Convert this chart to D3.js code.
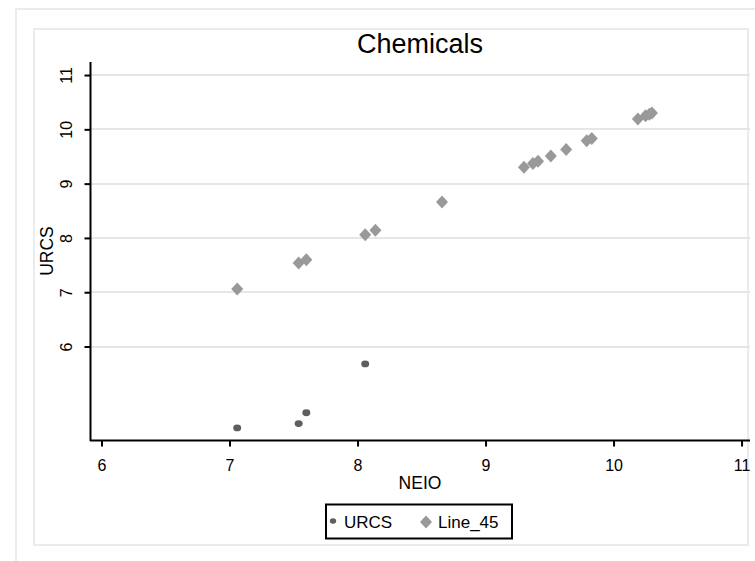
<!DOCTYPE html>
<html lang="en">
	<head>
		<meta charset="utf-8">
		<title>Chemicals</title>
		<style>
			body { margin: 0; background: white; }
			svg { display: block; font-family: "Liberation Sans", Arial, sans-serif; }
			.grid line { stroke: #e6e6e6; stroke-width: 1.5; shape-rendering: crispEdges; }
		</style>
	</head>
	<body>
		<div id="container"></div>
		<script src="https://cdnjs.cloudflare.com/ajax/libs/d3/7.8.5/d3.min.js"></script>
		<script>
			var neio = [7.06, 7.54, 7.60, 8.06, 8.14, 8.66, 9.30, 9.37, 9.41, 9.51, 9.63, 9.79, 9.83, 10.19, 10.25, 10.28, 10.30];
			var urcs = [4.50, 4.58, 4.78, 5.68, null, null, null, null, null, null, null, null, null, null, null, null, null];
			var line45 = [7.06, 7.54, 7.60, 8.06, 8.14, 8.66, 9.30, 9.37, 9.41, 9.51, 9.63, 9.79, 9.83, 10.19, 10.25, 10.28, 10.30];
			var xTicks = [6, 7, 8, 9, 10, 11];
			var yTicks = [6, 7, 8, 9, 10, 11];
			var seriesNames = ["URCS", "Line_45"];

			var W = 755, H = 561;
			var svg = d3.select("#container").append("svg")
						.attr("width", W)
						.attr("height", H);

			// graph region and plot region outlines (light grey)
			svg.append("rect")
				.attr("x", 16).attr("y", 9).attr("width", 800).attr("height", 600)
				.attr("fill", "none").attr("stroke", "#ebebeb").attr("stroke-width", 2);
			svg.append("rect")
				.attr("x", 34).attr("y", 29).attr("width", 714).attr("height", 516)
				.attr("fill", "none").attr("stroke", "#ebebeb").attr("stroke-width", 2);

			var xScale = d3.scaleLinear().domain([5.91, 11.066]).range([90, 750]);
			var yScale = d3.scaleLinear().domain([4.26, 11.24]).range([441, 62]);

			// horizontal grid lines
			svg.append("g").attr("class", "grid")
				.selectAll("line").data(yTicks).enter().append("line")
				.attr("x1", 91).attr("x2", 750)
				.attr("y1", function(d) { return Math.round(yScale(d)); })
				.attr("y2", function(d) { return Math.round(yScale(d)); });

			// y axis, labels rotated like Stata's
			var yAxis = d3.axisLeft(yScale).tickValues(yTicks).tickSize(6).tickPadding(0).tickFormat(d3.format("d"));
			var gy = svg.append("g").attr("transform", "translate(90.5,0)").call(yAxis);
			gy.select(".domain").attr("stroke-width", 2).attr("d", "M0," + yScale.range()[1] + "V" + yScale.range()[0]);
			gy.selectAll(".tick line").attr("stroke-width", 2);
			gy.selectAll(".tick text")
				.attr("x", null).attr("dy", null)
				.attr("transform", "translate(-19,0) rotate(-90)")
				.attr("text-anchor", "middle")
				.style("font-family", "'Liberation Sans', Arial, sans-serif")
				.style("font-size", "16px")
				.style("fill", "#000");

			// x axis
			var xAxis = d3.axisBottom(xScale).tickValues(xTicks).tickSize(6).tickPadding(0).tickFormat(d3.format("d"));
			var gx = svg.append("g").attr("transform", "translate(0,440.5)").call(xAxis);
			gx.select(".domain").attr("stroke-width", 2).attr("d", "M" + xScale.range()[0] + ",0H" + xScale.range()[1]);
			gx.selectAll(".tick line").attr("stroke-width", 2);
			gx.selectAll(".tick text")
				.attr("y", 30).attr("dy", null)
				.style("font-family", "'Liberation Sans', Arial, sans-serif")
				.style("font-size", "16px")
				.style("fill", "#000");

			// titles
			svg.append("text").attr("x", 420).attr("y", 53).attr("text-anchor", "middle")
				.style("font-size", "27px").text("Chemicals");
			svg.append("text").attr("x", 420).attr("y", 489).attr("text-anchor", "middle")
				.style("font-size", "17.5px").text("NEIO");
			svg.append("text").attr("transform", "translate(53,251) rotate(-90)").attr("text-anchor", "middle")
				.style("font-size", "17.5px").text("URCS");

			var diamond = "M0,-6.5L6,0L0,6.5L-6,0Z";
			var rows = neio.map(function(x, i) { return { x: x, urcs: urcs[i], line45: line45[i] }; });

			// Line_45 diamonds
			svg.append("g").selectAll("path")
				.data(rows.filter(function(d) { return d.line45 != null; }))
				.enter().append("path")
				.attr("d", diamond)
				.attr("fill", "#999999")
				.attr("transform", function(d) { return "translate(" + xScale(d.x) + "," + yScale(d.line45) + ")"; });

			// URCS dots
			svg.append("g").selectAll("ellipse")
				.data(rows.filter(function(d) { return d.urcs != null; }))
				.enter().append("ellipse")
				.attr("cx", function(d) { return xScale(d.x); })
				.attr("cy", function(d) { return yScale(d.urcs); })
				.attr("rx", 4).attr("ry", 3.4)
				.attr("fill", "#5f5f5f");

			// legend
			var legend = svg.append("g");
			legend.append("rect")
				.attr("x", 326).attr("y", 504.5).attr("width", 186).attr("height", 34)
				.attr("fill", "white").attr("stroke", "#000").attr("stroke-width", 2);
			legend.append("ellipse").attr("cx", 333).attr("cy", 521).attr("rx", 3.2).attr("ry", 2.8).attr("fill", "#5f5f5f");
			legend.append("text").attr("x", 344).attr("y", 527.5).style("font-size", "17px").text(seriesNames[0]);
			legend.append("path").attr("d", diamond).attr("fill", "#999999").attr("transform", "translate(426,522)");
			legend.append("text").attr("x", 438).attr("y", 527.5).style("font-size", "17px").text(seriesNames[1]);
		</script>
	</body>
</html>
